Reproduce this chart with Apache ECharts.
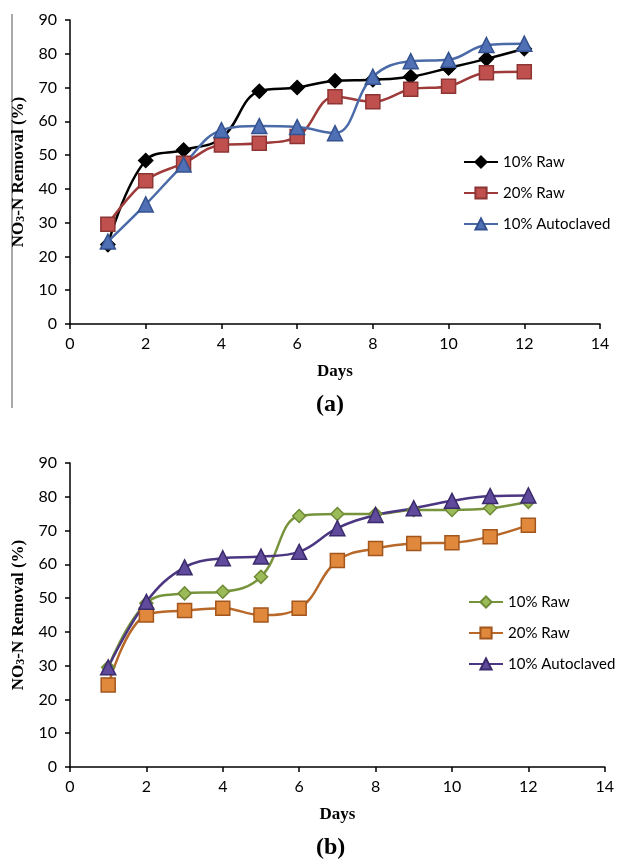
<!DOCTYPE html>
<html>
<head>
<meta charset="utf-8">
<script src="https://cdn.jsdelivr.net/npm/echarts@6/dist/echarts.min.js"></script>
<style>
  body { margin: 0; background: #fff; }
  .chart { width: 617px; height: 431px; }
</style>
</head>
<body>
<div id="chartA" class="chart"></div>
<div id="chartB" class="chart"></div>
<script>
// days on x axis
const days = [1, 2, 3, 4, 5, 6, 7, 8, 9, 10, 11, 12];
const seriesNames = ["10% Raw", "20% Raw", "10% Autoclaved"];

// panel (a)
const aRaw10 = [23.5, 48.4, 51.5, 55.0, 68.9, 70.0, 72.0, 72.3, 73.2, 75.8, 78.5, 81.5];
const aRaw20 = [29.5, 42.4, 47.6, 53.0, 53.5, 55.5, 67.3, 65.8, 69.5, 70.4, 74.4, 74.7];
const aAuto = [24.4, 35.4, 47.2, 57.4, 58.6, 58.3, 56.5, 73.2, 77.8, 78.2, 82.6, 83.0];

// panel (b)
const bRaw10 = [29.5, 48.5, 51.4, 51.9, 56.3, 74.3, 74.9, 74.9, 76.1, 76.1, 76.6, 78.5];
const bRaw20 = [24.3, 45.0, 46.3, 47.0, 45.0, 47.0, 61.1, 64.7, 66.2, 66.4, 68.2, 71.6];
const bAuto = [29.5, 48.9, 59.1, 61.8, 62.3, 63.7, 70.7, 74.6, 76.6, 78.8, 80.2, 80.4];

const pairs = (vals) => days.map((d, i) => [d, vals[i]]);

const tickFont = { fontFamily: "Lato", fontSize: 16, color: "#000" };

function lineSeries(name, vals, symbol, size, lineColor, fill, border) {
  return {
    name: name,
    type: "line",
    data: pairs(vals),
    smooth: 0.4,
    symbol: symbol,
    symbolSize: size,
    lineStyle: { color: lineColor, width: 2.5 },
    itemStyle: { color: fill, borderColor: border, borderWidth: 1.5 },
    emphasis: { disabled: true },
    z: 3
  };
}

function buildOption(gridTop, gridRight, legendLeft, legendTop, series, tag) {
  return {
    animation: false,
    grid: { left: 70, right: gridRight, top: gridTop, height: 304 },
    legend: {
      orient: "vertical",
      left: legendLeft,
      top: legendTop,
      padding: 0,
      itemWidth: 34,
      itemHeight: 14,
      itemGap: 15,
      textStyle: { fontFamily: "Lato", fontSize: 15, color: "#000", lineHeight: 16 },
      data: seriesNames
    },
    xAxis: {
      type: "value",
      min: 0,
      max: 14,
      interval: 2,
      name: "Days",
      nameLocation: "middle",
      nameGap: 39,
      nameTextStyle: { fontFamily: "Liberation Serif", fontWeight: "bold", fontSize: 17, color: "#000" },
      axisLine: { lineStyle: { color: "#000", width: 1.5 } },
      axisTick: { show: true, length: 5, lineStyle: { color: "#000", width: 1.5 } },
      axisLabel: Object.assign({ margin: 12 }, tickFont),
      splitLine: { show: false }
    },
    yAxis: {
      type: "value",
      min: 0,
      max: 90,
      interval: 10,
      name: "{a|NO}{s|3}{a|-N Removal (%)}",
      nameLocation: "middle",
      nameRotate: 90,
      nameGap: 43,
      nameTextStyle: {
        rich: {
          a: { fontFamily: "Liberation Serif", fontWeight: "bold", fontSize: 17, color: "#000" },
          s: { fontFamily: "Liberation Serif", fontWeight: "bold", fontSize: 12, color: "#000", verticalAlign: "bottom" }
        }
      },
      axisLine: { show: true, lineStyle: { color: "#000", width: 1.5 } },
      axisTick: { show: true, length: 5, lineStyle: { color: "#000", width: 1.5 } },
      axisLabel: Object.assign({ margin: 13 }, tickFont),
      splitLine: { show: false }
    },
    graphic: [
      {
        type: "text",
        left: 316,
        top: gridTop + 304 + 69,
        style: { text: tag, font: "bold 24px 'Liberation Serif'", fill: "#000" }
      }
    ],
    series: series
  };
}

const optA = buildOption(20, 17, 463, 154, [
  lineSeries(seriesNames[0], aRaw10, "diamond", 14, "#000", "#000", "#000"),
  lineSeries(seriesNames[1], aRaw20, "rect", 14, "#9e3b3a", "#c0504d", "#8c3534"),
  lineSeries(seriesNames[2], aAuto, "triangle", 15, "#4a6aa8", "#4f70b4", "#34528f")
], "(a)");
// thin frame line on the left of panel (a)
optA.graphic.push({
  type: "line",
  shape: { x1: 12, y1: 14, x2: 12, y2: 408 },
  style: { stroke: "#555", lineWidth: 1 }
});

const optB = buildOption(32, 12, 468, 163, [
  lineSeries(seriesNames[0], bRaw10, "diamond", 13, "#77933c", "#9bbb59", "#6f8a35"),
  lineSeries(seriesNames[1], bRaw20, "rect", 14, "#b8692a", "#e0893c", "#a3561c"),
  lineSeries(seriesNames[2], bAuto, "triangle", 15, "#4b3682", "#5f4a9b", "#3b2b6c")
], "(b)");

echarts.init(document.getElementById("chartA")).setOption(optA);
echarts.init(document.getElementById("chartB")).setOption(optB);
</script>
</body>
</html>
